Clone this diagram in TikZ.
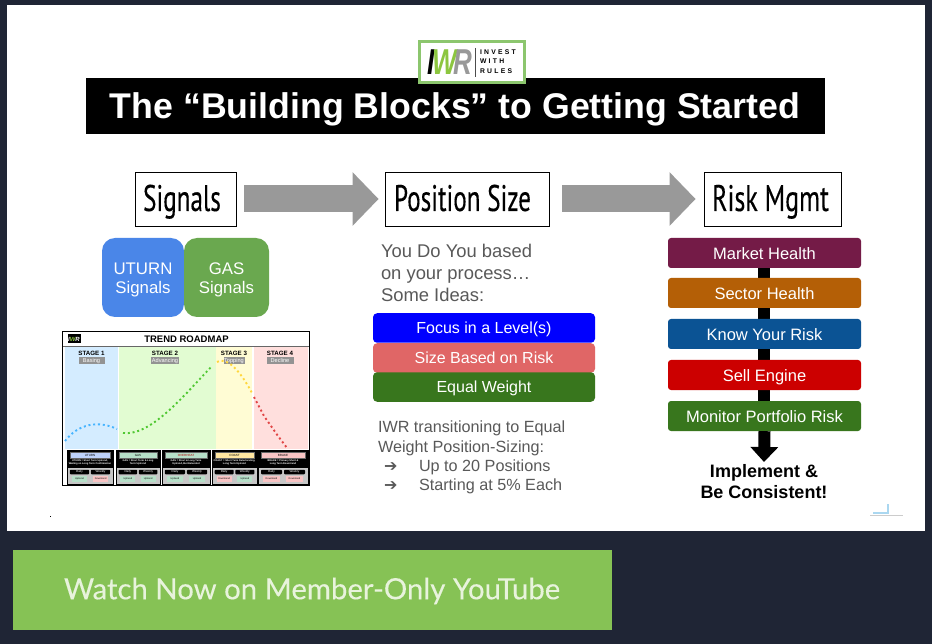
\documentclass[tikz,border=0pt]{standalone}
\usepackage{fontspec}
\setmainfont{Liberation Sans}
\newfontfamily\headfont[FakeBold=0.25]{PT Sans}
\newfontfamily\btnfont[FakeBold=0.2]{Lato}
\newfontfamily\symfont{DejaVu Sans}
\usetikzlibrary{arrows.meta}
\definecolor{bgdark}{HTML}{1F2535}
\definecolor{btngreen}{HTML}{86C255}
\definecolor{btntext}{HTML}{E8F3DC}
\definecolor{txtgray}{HTML}{595959}
\definecolor{arrowgray}{HTML}{999999}
\definecolor{logogreen}{HTML}{8CC66E}
\definecolor{wgreen}{HTML}{8CC63F}
\definecolor{ugreen}{HTML}{B6DFC8}
\definecolor{dred}{HTML}{F8C4C4}
\definecolor{uturnblue}{HTML}{4A86E8}
\definecolor{gasgreen}{HTML}{6AA84F}
\definecolor{st1}{HTML}{D4ECFF}
\definecolor{st2}{HTML}{E2FCD2}
\definecolor{st3}{HTML}{FFFCD4}
\definecolor{st4}{HTML}{FFDFDD}
\definecolor{dot1}{HTML}{46B4FF}
\definecolor{dot2}{HTML}{50C832}
\definecolor{dot3}{HTML}{FFD73C}
\definecolor{dot4}{HTML}{E14646}
\definecolor{labblue}{HTML}{BED2FA}
\definecolor{labyellow}{HTML}{FFE6A0}
\definecolor{ipure}{HTML}{0000FF}
\definecolor{ired}{HTML}{E06666}
\definecolor{igreen}{HTML}{38761D}
\definecolor{rplum}{HTML}{741B47}
\definecolor{rorange}{HTML}{B45F06}
\definecolor{rblue}{HTML}{0B5394}
\definecolor{rred}{HTML}{CC0000}
\definecolor{lineblue}{HTML}{AAD7F0}
\newcommand{\fs}[1]{\fontsize{#1}{#1}\selectfont}
\tikzset{
  x=1pt,y=-1pt,
  tx/.style={inner sep=0pt,outer sep=0pt},
  headbox/.style={draw=black,line width=.8pt,fill=white,inner sep=0pt,minimum height=54pt,text height=28pt,text depth=4pt,font=\headfont\fs{37}},
  bigarrow/.style={draw=arrowgray,line width=27pt,-{Triangle[length=26pt,width=52pt,fill=arrowgray]}},
  sigbox/.style={rounded corners=13pt,inner sep=0pt,minimum height=79pt},
  sigtxt/.style={tx,align=center,text=white,font=\fs{16.8}},
  ideabox/.style={rounded corners=4pt,inner sep=0pt,minimum width=222pt,minimum height=29.5pt,text height=11.5pt,text depth=0pt,text=white,font=\fs{16}},
  riskbox/.style={rounded corners=3pt,inner sep=0pt,minimum width=193pt,minimum height=30pt,text height=13pt,text depth=0pt,text=white,font=\fs{16.5}},
  riskbar/.style={draw=black,line width=12pt},
  graytxt/.style={tx,anchor=base west,text=txtgray,font=\fs{18.4}},
  iwrtxt/.style={tx,anchor=base west,text=txtgray,font=\fs{16.2}},
  stage/.style={tx,font=\bfseries\fs{6.2}},
  stagetag/.style={fill=gray!85,text=white,inner sep=.6pt,minimum height=7pt,font=\fs{5.6}},
  dotline/.style={line width=1.9pt,dash pattern=on 2pt off 2.8pt},
}
% mini card: prefix, x0, x1, label, label colour, description, c1, t1, c2
\newcommand{\minicard}[9]{%
  \def\mcx{#2}\def\mcy{#3}%
  \fill[black] (\mcx,450) rectangle (\mcy,467.5);
  \fill[black!22] (\mcx,467.5) rectangle (\mcy,484);
  \draw[black,line width=1pt] (\mcx,450) rectangle (\mcy,484);
  \pgfmathsetmacro{\mcm}{(\mcx+\mcy)/2}
  \pgfmathsetmacro{\mca}{\mcx+(\mcy-\mcx)*.27}
  \pgfmathsetmacro{\mcb}{\mcx+(\mcy-\mcx)*.73}
  \pgfmathsetmacro{\mcw}{(\mcy-\mcx)*.42}
  \pgfmathsetmacro{\mcl}{\mcy-\mcx-6}
  \pgfmathsetmacro{\mcv}{\mcw*.8}
  \def\mctmpa{#9}\def\mctmpb{ugreen}%
  \node[tx,fill=#5,draw=black!60,line width=.2pt,minimum width=\mcl pt,minimum height=6pt,font=\fs{3}] (#1lab) at (\mcm,455) {#4};
  \node[tx,text=white,align=center,font=\bfseries\fs{2.5}] (#1desc) at (\mcm,462.5) {#6};
  \node[tx,fill=black,text=white,rounded corners=.8pt,minimum width=\mcw pt,minimum height=4.5pt,font=\fs{3}] (#1d) at (\mca,472) {Daily};
  \node[tx,fill=black,text=white,rounded corners=.8pt,minimum width=\mcw pt,minimum height=4.5pt,font=\fs{3}] (#1w) at (\mcb,472) {Weekly};
  \node[tx,fill=#7,minimum width=\mcv pt,minimum height=5.5pt,font=\fs{2.4}] (#1p) at (\mca,479) {#8};
  \node[tx,fill=#9,minimum width=\mcv pt,minimum height=5.5pt,font=\fs{2.4}] (#1q) at (\mcb,479) {\ifx\mctmpa\mctmpb Uptrend\else Downtrend\fi};
}
\begin{document}
\begin{tikzpicture}
\useasboundingbox (0,0) rectangle (932,644);
\fill[bgdark] (0,0) rectangle (932,644);
\fill[white] (7,5) rectangle (925,531);
% button
\node[tx,fill=btngreen,minimum width=599pt,minimum height=80pt] (btn) at (312.5,590) {};
\node[tx,text=btntext,font=\btnfont\fs{29.3}] (btnt) at (312,591) {Watch Now on Member-Only YouTube};
% title
\node[tx,fill=black,minimum width=739pt,minimum height=56pt] (bar) at (455.5,106) {};
\node[tx,text=white,font=\bfseries\fs{35.7}] (title) at (455,109.5) {The “Building Blocks” to Getting Started};
% logo
\node[tx,draw=logogreen,line width=3pt,fill=white,minimum width=105pt,minimum height=41pt] (logo) at (471.5,62.5) {};
\node[tx,font=\bfseries\itshape\fs{36}] (logoiwr) at (450,62) {\scalebox{.72}[1]{\textcolor{black}{I}\kern-3pt\textcolor{wgreen}{W}\kern-5pt\textcolor{black!40}{R}}};
\draw[black!70,line width=.6pt] (475.5,48) -- (475.5,77);
\node[tx,anchor=west,align=left,font=\bfseries\fs{6.8}] (logotext) at (480,61.5) {I\,\,N\,\,V\,\,E\,\,S\,\,T\\[3pt]W\,\,I\,\,T\,\,H\\[3pt]R\,\,U\,\,L\,\,E\,\,S};
% headers
\node[headbox,minimum width=101.5pt] (signals) at (186,199) {\scalebox{.68}[1]{Signals}\kern8pt};
\node[headbox,minimum width=164pt] (possize) at (467,199) {\scalebox{.68}[1]{Position Size}\kern9pt};
\node[headbox,minimum width=137pt] (riskm) at (772.5,199) {\scalebox{.7}[1]{Risk Mgmt}\kern4pt};
\draw[bigarrow,shorten <=7pt,shorten >=6pt] (signals.east) -- (possize.west);
\draw[bigarrow,shorten <=13pt,shorten >=8pt] (possize.east) -- (riskm.west);
% signals
\node[sigbox,fill=uturnblue,minimum width=82pt] (uturn) at (143,277.5) {};
\node[sigbox,fill=gasgreen,minimum width=85pt] (gas) at (226.5,277.5) {};
\node[sigtxt] (uturnt) at (143,280) {UTURN\\[2.5pt]Signals};
\node[sigtxt] (gast) at (226.5,280) {GAS\\[2.5pt]Signals};
% roadmap
\fill[white] (62,331) rectangle (310,486);
\fill[st1] (65,347) rectangle (118,449);
\fill[st2] (119,347) rectangle (216,449);
\fill[st3] (216,347) rectangle (252,449);
\fill[st4] (254,347) rectangle (308,449);
\draw[black,line width=1.8pt] (62.5,331.5) rectangle (309.5,485.5);
\draw[black!60,line width=.6pt] (63,346.5) -- (309,346.5);
\node[tx,font=\bfseries\fs{9.5}] (rmt) at (186.5,339) {TREND ROADMAP};
\node[tx,fill=black,minimum width=13pt,minimum height=9pt,text=white,font=\bfseries\itshape\fs{6}] (rml) at (74,339) {I\textcolor{wgreen}{W}R};
\node[stage] (s1) at (91.5,353.5) {STAGE 1};
\node[stagetag,minimum width=26pt] (t1) at (91.5,360.7) {Basing};
\node[stage] (s2) at (165,353.5) {STAGE 2};
\node[stagetag,minimum width=28pt] (t2) at (165,360.7) {Advancing};
\node[stage] (s3) at (234,353.5) {STAGE 3};
\node[stagetag,minimum width=21pt] (t3) at (234,360.7) {Topping};
\node[stage] (s4) at (280,353.5) {STAGE 4};
\node[stagetag,minimum width=27pt] (t4) at (280,360.7) {Decline};
\draw[dot1,dotline] (65,441) .. controls (78,424) and (98,420) .. (117,429);
\draw[dot2,dotline] (123,433) .. controls (150,436) and (180,400) .. (212,366);
\draw[dot3,dotline] (217,362) .. controls (226,356) and (240,370) .. (252,393);
\draw[dot4,dotline] (254,397) -- (264,416) -- (278,436) -- (287,448);
\minicard{ca}{67}{113}{UTURN}{labblue}{UTURN = Short Term Uptrend,\\Waiting on Long Term Confirmation}{ugreen}{Uptrend}{dred}
\minicard{cb}{116}{160}{GAS}{ugreen}{GAS = Short Term \& Long\\Term Uptrend}{ugreen}{Uptrend}{ugreen}
\minicard{cc}{162}{210}{\textcolor{red!70!black}{OVERHEAT}}{ugreen}{GAS = Short \& Long Term\\Uptrend, But Extended}{ugreen}{Uptrend}{ugreen}
\minicard{cd}{212}{257}{COAST}{labyellow}{COAST = Short Term Deteriorating,\\Long Term Uptrend}{dred}{Downtrend}{ugreen}
\minicard{ce}{258}{308}{BRAKE}{dred}{BRAKE = Primary Short \&\\Long Term Downtrend}{dred}{Downtrend}{dred}
% middle column
\node[graytxt] (g1) at (381,257.5) {You Do You based};
\node[graytxt] (g2) at (381,279.5) {on your process…};
\node[graytxt] (g3) at (381,301.5) {Some Ideas:};
\node[ideabox,fill=ipure] (i1) at (484,328) {Focus in a Level(s)};
\node[ideabox,fill=ired] (i2) at (484,358) {Size Based on Risk};
\node[ideabox,fill=igreen] (i3) at (484,387) {Equal Weight};
\node[iwrtxt] (w1) at (378,432.5) {IWR transitioning to Equal};
\node[iwrtxt] (w2) at (378,452) {Weight Position-Sizing:};
\node[iwrtxt,font=\symfont\fs{16}] (a1) at (384,471.5) {➔};
\node[iwrtxt] (w3) at (419,471.5) {Up to 20 Positions};
\node[iwrtxt,font=\symfont\fs{16}] (a2) at (384,490.5) {➔};
\node[iwrtxt] (w4) at (419,490.5) {Starting at 5\% Each};
% right column
\draw[riskbar] (764,253) -- (764,416);
\node[riskbox,fill=rplum] (r1) at (764.5,253) {Market Health};
\node[riskbox,fill=rorange] (r2) at (764.5,293) {Sector Health};
\node[riskbox,fill=rblue] (r3) at (764.5,334) {Know Your Risk};
\node[riskbox,fill=rred] (r4) at (764.5,375) {Sell Engine};
\node[riskbox,fill=igreen] (r5) at (764.5,416) {Monitor Portfolio Risk};
\node[tx,align=center,font=\bfseries\fs{18}] (impl) at (764,481.5) {Implement \&\\[3.5pt]Be Consistent!};
\coordinate (tip) at (764,462);
\draw[riskbar,-{Triangle[length=15pt,width=27pt,fill=black]}] (r5.south) -- (tip);
% marks
\fill[black] (49.5,515.5) rectangle (51,517);
\draw[lineblue,line width=1.3pt] (873,513) -- (888,513) -- (888,504);
\draw[black!20,line width=.7pt] (870,515.5) -- (903,515.5);
\end{tikzpicture}
\end{document}
